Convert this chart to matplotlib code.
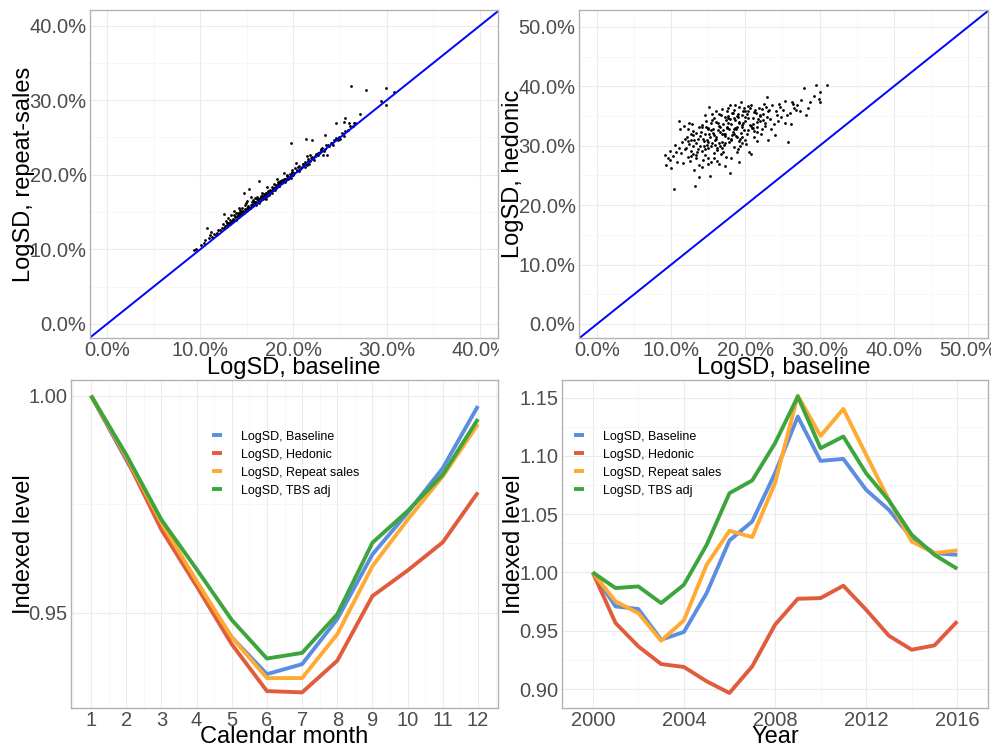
import numpy as np
import matplotlib
matplotlib.use("Agg")
import matplotlib.pyplot as plt
from matplotlib.ticker import PercentFormatter, MultipleLocator
from matplotlib.transforms import Bbox

plt.rcParams['font.family'] = ['Liberation Sans', 'DejaVu Sans']

# --- scatter: LogSD baseline vs repeat-sales (percent) ---
rs_x = [9.3, 9.6, 10.1, 10.4, 10.7, 10.9, 11.0, 11.3, 11.5, 11.7, 11.9, 11.2, 10.5, 11.8,
        12.1, 12.3, 12.4, 12.6, 12.7, 12.8, 12.9, 13.0, 13.1, 13.2, 13.3, 13.4, 13.5, 13.6, 13.7, 13.8, 13.9,
        12.5, 13.0, 13.3, 13.6, 13.9,
        14.0, 14.1, 14.2, 14.3, 14.4, 14.5, 14.6, 14.7, 14.8, 14.9, 15.0, 15.1, 15.2, 15.3, 15.4, 15.5,
        15.6, 15.7, 15.8, 15.9, 14.2, 14.5, 14.8, 15.1, 15.4, 15.7, 14.7, 15.2, 15.5, 15.9, 14.3, 15.0,
        16.0, 16.1, 16.2, 16.3, 16.4, 16.5, 16.6, 16.7, 16.8, 16.9, 17.0, 17.1, 17.2, 17.3, 17.4, 17.5,
        17.6, 17.7, 17.8, 17.9, 16.3, 16.6, 16.9, 17.2, 17.5, 17.8, 16.1, 16.8, 17.4, 17.9, 16.5, 17.0,
        18.0, 18.1, 18.2, 18.3, 18.4, 18.5, 18.6, 18.7, 18.8, 18.9, 19.0, 19.1, 19.2, 19.3, 19.4, 19.5,
        19.6, 19.7, 19.8, 19.9, 18.2, 18.6, 19.0, 19.4, 19.8, 18.4, 18.9, 19.3, 19.7, 18.0,
        20.0, 20.2, 20.4, 20.6, 20.8, 21.0, 21.2, 21.4, 21.6, 21.8, 22.0, 22.2, 22.4, 22.6, 22.8,
        20.3, 20.9, 21.5, 22.1, 22.7, 19.7, 21.3, 22.0, 22.9, 20.6, 21.7,
        23.1, 23.3, 23.5, 23.8, 24.0, 24.3, 24.6, 24.9, 25.2, 25.5, 25.8, 26.1, 26.4, 23.2, 23.6, 24.2,
        24.8, 25.4, 26.0, 23.4, 24.6, 25.4, 25.5, 26.2, 26.5, 27.1, 27.8, 29.4, 29.9, 29.9, 30.8, 26.6, 25.0,
        13.2, 13.5, 13.8, 14.1, 14.4, 14.6, 14.9, 15.1, 15.3, 15.6, 15.8, 16.0, 16.2, 16.4, 16.7, 16.9,
        17.1, 17.3, 17.6, 17.8, 18.1, 18.3, 18.5, 18.8, 19.0, 19.2, 19.5, 19.7, 19.9, 20.1, 20.4, 20.7,
        21.0, 21.3, 21.6, 21.9, 22.3, 22.6, 23.0, 23.4, 23.7, 24.1, 24.5, 14.3, 15.0, 15.7, 16.3, 17.0,
        17.7, 18.4, 19.1, 19.8, 20.5, 21.2, 21.8, 22.5, 12.9, 13.6]
rs_y = [9.9, 10.0, 10.6, 10.9, 12.8, 11.5, 11.9, 11.6, 12.1, 11.9, 12.6, 12.3, 11.3, 12.2,
        12.6, 12.9, 13.4, 14.8, 13.1, 13.8, 13.3, 14.2, 13.5, 13.9, 14.6, 13.8, 14.1, 14.0, 14.4, 14.9, 14.3,
        12.8, 13.6, 13.7, 15.2, 14.5,
        14.5, 14.9, 15.6, 14.7, 15.1, 15.5, 15.0, 17.6, 15.4, 16.2, 15.3, 15.8, 18.1, 15.6, 16.0, 16.3,
        15.9, 16.6, 16.1, 16.4, 14.6, 15.0, 15.9, 15.4, 17.0, 16.0, 14.9, 15.5, 15.8, 16.9, 15.3, 16.5,
        16.3, 16.7, 16.4, 19.2, 16.9, 16.6, 17.1, 16.8, 17.4, 17.0, 17.3, 17.6, 17.2, 17.8, 17.5, 17.9,
        17.7, 18.3, 18.0, 18.2, 16.5, 17.5, 16.9, 18.4, 17.6, 17.9, 17.0, 17.1, 17.3, 18.7, 17.2, 16.8,
        18.3, 18.6, 18.4, 19.0, 18.7, 18.5, 19.1, 18.9, 19.3, 19.0, 19.2, 19.5, 19.4, 19.8, 19.6, 19.7,
        20.1, 19.9, 20.3, 20.0, 19.5, 18.8, 20.2, 19.4, 20.7, 18.5, 19.2, 20.0, 19.6, 17.9,
        20.3, 20.9, 20.6, 21.2, 20.9, 21.5, 21.7, 21.3, 22.1, 21.8, 22.4, 22.0, 22.8, 22.6, 23.1,
        21.6, 21.0, 22.5, 22.2, 22.9, 24.3, 24.8, 24.6, 23.4, 20.5, 21.5,
        23.6, 23.2, 24.0, 23.8, 24.2, 24.6, 24.9, 25.1, 25.6, 25.9, 26.0, 26.5, 26.6, 22.7, 22.6, 24.0,
        24.6, 25.2, 26.9, 25.3, 27.0, 27.1, 27.6, 31.9, 26.9, 28.2, 31.4, 29.9, 31.7, 29.3, 31.1, 27.0, 24.8,
        13.4, 13.9, 14.0, 14.6, 14.8, 15.2, 15.1, 15.7, 15.5, 15.8, 16.3, 16.0, 16.8, 16.5, 16.9, 17.3,
        17.2, 17.6, 17.8, 18.1, 18.2, 18.7, 18.6, 18.9, 19.4, 19.3, 19.6, 20.0, 20.2, 20.3, 20.5, 20.8,
        21.4, 21.5, 21.8, 22.3, 22.5, 22.9, 23.3, 23.5, 24.0, 24.3, 24.7, 15.0, 15.6, 15.9, 16.2, 17.5,
        17.6, 18.9, 19.0, 20.4, 21.0, 21.1, 22.6, 22.7, 13.6, 14.6]

# --- scatter: LogSD baseline vs hedonic (percent) ---
hd_x = [9.1, 9.3, 9.6, 9.9, 10.2, 10.4, 10.5, 10.8, 11.0, 11.1, 11.3, 11.5, 11.6, 11.8, 11.9, 10.0, 10.7, 11.2, 11.7, 9.8,
        12.0, 12.1, 12.2, 12.3, 12.4, 12.5, 12.6, 12.7, 12.8, 12.9, 13.0, 13.1, 13.2, 13.3, 13.4, 13.5,
        13.6, 13.7, 13.8, 13.9, 12.2, 12.6, 13.0, 13.3, 13.6, 13.9, 12.4, 12.9, 13.4, 13.8,
        14.0, 14.1, 14.2, 14.3, 14.4, 14.5, 14.6, 14.7, 14.8, 14.9, 15.0, 15.1, 15.2, 15.3, 15.4, 15.5,
        15.6, 15.7, 15.8, 15.9, 14.2, 14.6, 15.0, 15.4, 15.8, 14.4, 14.9, 15.3, 15.7, 14.1, 14.8, 15.5, 15.2, 14.9,
        16.0, 16.1, 16.2, 16.3, 16.4, 16.5, 16.6, 16.7, 16.8, 16.9, 17.0, 17.1, 17.2, 17.3, 17.4, 17.5,
        17.6, 17.7, 17.8, 17.9, 16.2, 16.6, 17.0, 17.4, 17.8, 16.4, 16.9, 17.3, 17.7, 16.1, 16.8, 17.5,
        17.2, 16.5, 17.9, 17.6,
        18.0, 18.1, 18.2, 18.3, 18.4, 18.5, 18.6, 18.7, 18.8, 18.9, 19.0, 19.1, 19.2, 19.3, 19.4, 19.5,
        19.6, 19.7, 19.8, 19.9, 18.2, 18.6, 19.0, 19.4, 19.8, 18.4, 18.8, 19.3, 19.7, 18.1, 18.9, 19.5, 19.1, 18.5,
        20.0, 20.2, 20.4, 20.6, 20.8, 21.0, 21.2, 21.4, 21.6, 21.8, 22.0, 22.2, 22.4, 22.6, 22.8,
        20.1, 20.5, 20.9, 21.3, 21.7, 22.1, 22.5, 22.9, 20.3, 21.1, 21.9, 22.7, 20.7, 21.5, 22.3, 20.2, 21.0,
        23.0, 23.3, 23.6, 23.9, 24.2, 24.5, 24.8, 25.1, 25.4, 25.7, 26.0, 26.3, 26.6, 23.4, 24.0, 24.7,
        25.3, 25.6, 26.1, 26.4, 26.8, 24.4, 23.1, 22.9,
        27.0, 27.5, 27.9, 28.2, 28.7, 29.3, 29.5, 29.9, 30.1, 30.1, 31.0, 28.4, 27.3,
        14.3, 14.7, 15.1, 15.5, 15.9, 16.3, 16.7, 17.1, 17.5, 17.9, 18.3, 18.7, 19.1, 19.5, 19.9, 20.3,
        20.7, 21.1, 21.5, 21.9, 14.5, 15.0, 15.6, 16.0, 16.6, 17.0, 17.6, 18.0, 18.6, 19.0, 19.6, 20.0,
        20.6, 21.0, 21.6, 16.2, 17.3, 18.4, 19.2, 20.4, 13.1, 12.7, 22.4, 23.2, 24.1]
hd_y = [28.4, 26.7, 27.9, 29.1, 28.2, 22.8, 30.1, 27.3, 29.6, 34.1, 28.8, 30.6, 27.1, 31.2, 29.4, 26.2, 29.0, 32.8, 33.4, 27.6,
        29.7, 31.4, 28.1, 32.9, 30.3, 27.4, 30.9, 29.2, 33.6, 28.6, 31.8, 25.9, 23.3, 30.4, 32.2, 28.9,
        31.1, 26.8, 33.1, 29.9, 30.8, 28.3, 32.5, 27.9, 29.5, 31.6, 33.9, 30.0, 28.4, 24.7,
        32.4, 29.1, 33.5, 27.6, 30.8, 31.9, 28.4, 34.2, 30.2, 32.9, 29.6, 36.5, 31.4, 27.2, 33.8, 30.5,
        32.1, 28.8, 34.6, 31.0, 26.5, 35.1, 33.0, 29.9, 27.9, 30.0, 26.9, 32.7, 31.8, 33.2, 30.9, 35.4, 24.9, 28.0,
        31.5, 34.0, 29.3, 32.6, 30.4, 35.3, 33.2, 28.7, 31.9, 36.2, 33.6, 30.1, 34.8, 32.0, 28.1, 35.9,
        31.3, 33.9, 30.7, 36.8, 27.4, 32.3, 29.0, 34.3, 32.8, 33.4, 30.6, 26.6, 35.0, 31.1, 29.7, 33.1,
        31.7, 27.0, 25.5, 34.7,
        33.7, 30.9, 35.6, 32.4, 36.1, 29.8, 34.4, 31.6, 35.0, 33.1, 29.5, 36.6, 34.0, 31.2, 37.3, 33.5,
        30.4, 35.8, 32.7, 34.9, 31.8, 33.0, 35.3, 32.2, 36.4, 34.6, 28.9, 30.0, 33.8, 27.9, 31.4, 35.1, 27.2, 32.9,
        34.2, 32.0, 35.9, 33.5, 36.9, 34.7, 31.5, 35.6, 33.2, 36.3, 34.1, 32.8, 35.4, 33.9, 36.6,
        30.3, 29.0, 33.0, 36.0, 34.5, 31.9, 37.1, 34.9, 36.7, 32.5, 35.0, 33.3, 28.6, 30.8, 36.2, 35.3, 33.7,
        35.8, 34.5, 36.8, 33.6, 35.2, 37.0, 34.8, 36.1, 33.9, 30.6, 35.5, 37.3, 36.4, 32.8, 31.8, 36.5,
        37.5, 35.1, 33.7, 37.0, 36.0, 34.1, 31.0, 38.2,
        36.8, 37.7, 39.8, 35.2, 37.4, 38.4, 40.2, 37.9, 39.0, 37.3, 40.2, 36.4, 35.9,
        31.2, 33.1, 32.0, 34.4, 30.1, 33.8, 35.1, 31.9, 33.0, 34.5, 35.5, 32.9, 33.9, 31.5, 35.9, 34.6,
        33.4, 35.7, 32.3, 35.2, 29.4, 30.6, 32.9, 35.8, 30.0, 32.7, 36.3, 31.2, 36.9, 34.8, 33.2, 31.0,
        36.4, 33.0, 34.0, 29.7, 30.5, 32.0, 30.8, 32.6, 30.9, 31.9, 34.4, 36.0, 35.9]

# --- seasonal index by calendar month ---
months = list(range(1, 13))
month_baseline = [1.0, 0.9852, 0.9711, 0.9565, 0.9443, 0.9358, 0.9381, 0.9485, 0.9634, 0.9730, 0.9833, 0.9976]
month_hedonic = [1.0, 0.9856, 0.9691, 0.9561, 0.9427, 0.9319, 0.9316, 0.9389, 0.9538, 0.9597, 0.9662, 0.9777]
month_repeat = [1.0, 0.9860, 0.9707, 0.9573, 0.9443, 0.9349, 0.9349, 0.9450, 0.9607, 0.9714, 0.9814, 0.9934]
month_tbs = [1.0, 0.9864, 0.9714, 0.9600, 0.9483, 0.9394, 0.9407, 0.9496, 0.9661, 0.9734, 0.9818, 0.9946]

# --- index by year ---
years = list(range(2000, 2017))
year_baseline = [1.0, 0.9709, 0.9686, 0.9423, 0.9489, 0.9823, 1.0274, 1.0437, 1.0851, 1.1337,
                 1.0957, 1.0974, 1.0709, 1.0537, 1.0294, 1.0166, 1.0151]
year_hedonic = [1.0, 0.9566, 0.9366, 0.9214, 0.9189, 0.9066, 0.8966, 0.9194, 0.9551, 0.9774,
                0.9780, 0.9886, 0.9680, 0.9457, 0.9337, 0.9374, 0.9580]
year_repeat = [1.0, 0.9751, 0.9651, 0.9414, 0.9589, 1.0066, 1.0357, 1.0303, 1.0766, 1.1517,
               1.1171, 1.1403, 1.1009, 1.0623, 1.0266, 1.0166, 1.0189]
year_tbs = [1.0, 0.9866, 0.9880, 0.9737, 0.9894, 1.0237, 1.0680, 1.0789, 1.1109, 1.1509,
            1.1066, 1.1166, 1.0851, 1.0617, 1.0323, 1.0151, 1.0031]

series_labels = ["LogSD, Baseline", "LogSD, Hedonic", "LogSD, Repeat sales", "LogSD, TBS adj"]
series_colors = ["#5B8DE0", "#E05C3C", "#FFAA33", "#3DA53D"]

W, H = 991, 751
fig = plt.figure(figsize=(W / 100, H / 100), dpi=100)


def make_axes(left, top, right, bottom):
    return fig.add_axes([left / W, 1 - bottom / H, (right - left) / W, (bottom - top) / H])


def style(ax, major, minor):
    for sp in ax.spines.values():
        sp.set_color("#B3B3B3")
        sp.set_linewidth(1.0)
    ax.xaxis.set_major_locator(MultipleLocator(major[0]))
    ax.xaxis.set_minor_locator(MultipleLocator(minor[0]))
    ax.yaxis.set_major_locator(MultipleLocator(major[1]))
    ax.yaxis.set_minor_locator(MultipleLocator(minor[1]))
    ax.grid(True, which="major", color="#EBEBEB", lw=0.8)
    ax.grid(True, which="minor", color="#F4F4F4", lw=0.5)
    ax.set_axisbelow(True)
    ax.tick_params(which="both", length=0, labelsize=14.5, labelcolor="#4D4D4D")
    ax.tick_params(axis="x", pad=2.5)
    ax.tick_params(axis="y", pad=2.5)


# top left
ax1 = make_axes(90, 10, 498, 338)
style(ax1, (10, 10), (5, 5))
ax1.scatter(rs_x, rs_y, s=4, color="black", linewidths=0)
ax1.axline((0, 0), slope=1, color="#0000FF", lw=1.4)
ax1.set_xlim(-1.82, 41.93)
ax1.set_ylim(-1.88, 42.09)
ax1.xaxis.set_major_formatter(PercentFormatter(100, decimals=1))
ax1.yaxis.set_major_formatter(PercentFormatter(100, decimals=1))
ax1.set_xlabel("LogSD, baseline", fontsize=17)
ax1.set_ylabel("LogSD, repeat-sales", fontsize=17)
ax1.xaxis.set_label_coords(0.5, -0.057)
ax1.yaxis.set_label_coords(-0.135, 0.5)

# top right
ax2 = make_axes(579, 10, 988, 338)
style(ax2, (10, 10), (5, 5))
ax2.scatter(hd_x, hd_y, s=4, color="black", linewidths=0)
ax2.axline((0, 0), slope=1, color="#0000FF", lw=1.4)
ax2.set_xlim(-2.43, 52.7)
ax2.set_ylim(-2.36, 52.86)
ax2.xaxis.set_major_formatter(PercentFormatter(100, decimals=1))
ax2.yaxis.set_major_formatter(PercentFormatter(100, decimals=1))
ax2.set_xlabel("LogSD, baseline", fontsize=17)
ax2.set_ylabel("LogSD, hedonic", fontsize=17)
ax2.xaxis.set_label_coords(0.5, -0.057)
ax2.yaxis.set_label_coords(-0.135, 0.5)

# bottom left
ax3 = make_axes(71, 380, 498, 708)
style(ax3, (1, 0.05), (0.5, 0.025))
for vals, lab, col in zip([month_baseline, month_hedonic, month_repeat, month_tbs], series_labels, series_colors):
    ax3.plot(months, vals, color=col, lw=2.8, label=lab, solid_capstyle="butt")
ax3.set_xlim(0.43, 12.57)
ax3.set_ylim(0.928, 1.0036)
ax3.yaxis.set_major_formatter(plt.FormatStrFormatter("%.2f"))
ax3.set_xlabel("Calendar month", fontsize=17)
ax3.set_ylabel("Indexed level", fontsize=17)
ax3.xaxis.set_label_coords(0.5, -0.055)
ax3.yaxis.set_label_coords(-0.084, 0.5)
ax3.legend(loc="upper left", bbox_to_anchor=(0.33, 0.845), frameon=False, fontsize=9,
           handlelength=0.8, handletextpad=1.5, labelspacing=0.48, borderpad=0, borderaxespad=0)

# bottom right
ax4 = make_axes(562, 380, 988, 708)
style(ax4, (4, 0.05), (2, 0.025))
for vals, lab, col in zip([year_baseline, year_hedonic, year_repeat, year_tbs], series_labels, series_colors):
    ax4.plot(years, vals, color=col, lw=2.8, label=lab, solid_capstyle="butt")
ax4.set_xlim(1998.65, 2017.35)
ax4.set_ylim(0.8837, 1.1651)
ax4.yaxis.set_major_formatter(plt.FormatStrFormatter("%.2f"))
ax4.set_xlabel("Year", fontsize=17)
ax4.set_ylabel("Indexed level", fontsize=17)
ax4.xaxis.set_label_coords(0.5, -0.055)
ax4.yaxis.set_label_coords(-0.087, 0.5)
ax4.legend(loc="upper left", bbox_to_anchor=(0.028, 0.845), frameon=False, fontsize=9,
           handlelength=0.8, handletextpad=1.5, labelspacing=0.48, borderpad=0, borderaxespad=0)

# clip the top-left x tick labels at the panel's right edge, as in the original
fig.canvas.draw()
clip = Bbox.from_extents(0, 0, 499, H)
for lbl in ax1.get_xticklabels():
    lbl.set_clip_box(clip)
    lbl.set_clip_on(True)

fig.savefig("out.png", dpi=100)
